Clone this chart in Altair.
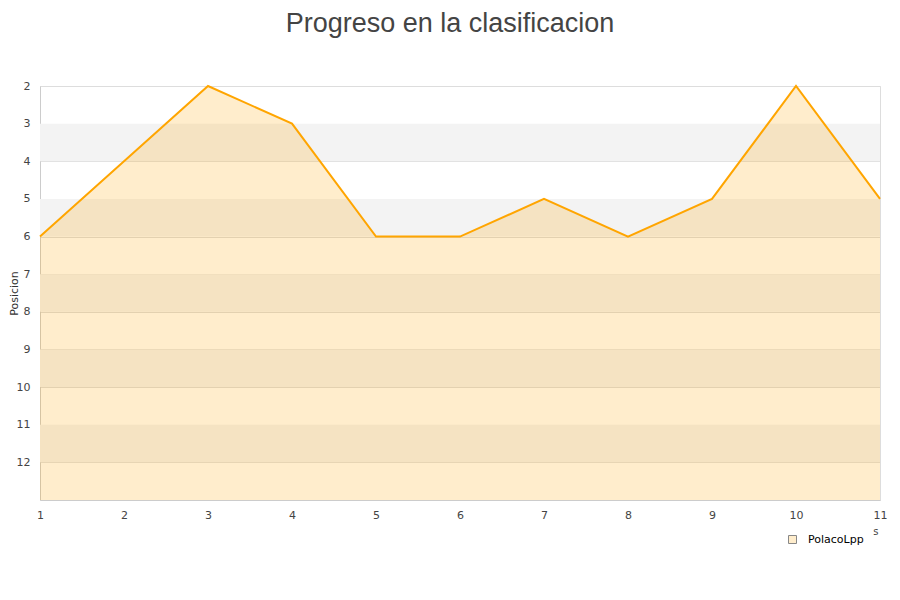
import altair as alt
import pandas as pd

jornadas = [1, 2, 3, 4, 5, 6, 7, 8, 9, 10, 11]
posicion = [6, 4, 2, 3, 6, 6, 5, 6, 5, 2, 5]
serie = "PolacoLpp"
band_start = [3, 5, 7, 9, 11]
band_end = [4, 6, 8, 10, 12]
y_ticks = [2, 3, 4, 5, 6, 7, 8, 9, 10, 11, 12]

df = pd.DataFrame({"jornada": jornadas, "posicion": posicion, "serie": [serie] * len(jornadas)})
bands = pd.DataFrame({"y1": band_start, "y2": band_end})

yscale = alt.Scale(domain=[2, 13], reverse=True, nice=False, zero=False)
xscale = alt.Scale(domain=[1, 11], nice=False, zero=False)

band_layer = alt.Chart(bands).mark_rect(color="#f3f3f3").encode(
    y=alt.Y("y1:Q", scale=yscale),
    y2="y2:Q",
    x=alt.value(0),
    x2=alt.value(840),
)

area = alt.Chart(df).mark_area(fillOpacity=1, line=False).encode(
    x=alt.X("jornada:Q", scale=xscale,
            axis=alt.Axis(values=jornadas, format="d", grid=False, ticks=False,
                          labelFlush=False,
                          labelPadding=9, domainColor="#cccccc", title="s",
                          titleAnchor="end", titleFontSize=10, titleFontWeight="normal",
                          titleColor="#444444", titlePadding=6, titleX=838)),
    y=alt.Y("posicion:Q", scale=yscale,
            axis=alt.Axis(values=y_ticks, format="d", grid=True, gridColor="#dddddd",
                          ticks=False, labelPadding=10, domainColor="#cccccc",
                          title="Posicion", titleFontSize=11, titleFontWeight="normal",
                          titleColor="#333333", titleX=-26, titleY=207,
                          titleAngle=-90, titleAlign="center", titleBaseline="middle")),
    y2=alt.Y2(datum=13),
    fill=alt.Fill("serie:N", scale=alt.Scale(range=["rgba(255,165,0,0.2)"]),
                  legend=alt.Legend(title=None, orient="none", legendX=747, legendY=448,
                                    symbolType="square", symbolSize=64,
                                    symbolStrokeColor="#888888",
                                    symbolStrokeWidth=1, symbolOpacity=1,
                                    labelFontSize=11, labelColor="#000000", labelOffset=10)),
)

line = alt.Chart(df).mark_line(color="orange", strokeWidth=2).encode(
    x=alt.X("jornada:Q", scale=xscale),
    y=alt.Y("posicion:Q", scale=yscale),
)

chart = alt.layer(band_layer, area, line).properties(
    width=840,
    height=414,
    title=alt.TitleParams("Progreso en la clasificacion", font="Liberation Sans",
                          fontSize=27, fontWeight="normal", color="#444444",
                          anchor="middle", offset=42, dx=-10),
    autosize=alt.AutoSizeParams(type="none"),
    padding={"left": 32, "top": 78, "right": 12, "bottom": 80},
).configure_view(stroke="#dddddd").configure_axis(
    labelFont="DejaVu Sans", labelFontSize=11, labelColor="#444444", titleFont="DejaVu Sans"
).configure_legend(labelFont="DejaVu Sans")

chart.save("out.html", embed_options={"renderer": "svg", "actions": False})
